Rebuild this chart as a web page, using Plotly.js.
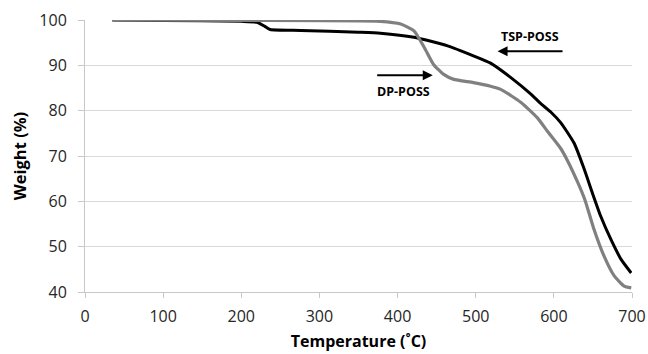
<!DOCTYPE html>
<html>
<head>
<meta charset="utf-8">
<script src="https://cdn.plot.ly/plotly-3.0.1.min.js"></script>
<style>
  html, body { margin: 0; padding: 0; background: #fff; }
  #chart { width: 648px; height: 354px; }
</style>
</head>
<body>
<div id="chart"></div>
<script>
// TGA curves: temperature (°C) vs residual weight (%)
const tspTemp = [35, 100, 200, 220, 230, 237, 276, 350, 378, 421, 464, 497, 519, 545, 571, 583, 596, 609, 626, 638, 649, 660, 673, 686, 699];
const tspWeight = [100, 99.9, 99.7, 99.5, 98.6, 97.9, 97.7, 97.3, 97.1, 96.2, 94.3, 92.1, 90.5, 87.3, 83.6, 81.6, 79.7, 77.3, 72.8, 67.5, 62.0, 56.7, 51.6, 47.2, 44.2];

const dpTemp = [35, 200, 378, 404, 421, 434, 446, 459, 472, 497, 519, 532, 558, 579, 592, 609, 618, 631, 640, 651, 664, 677, 690, 699];
const dpWeight = [100, 99.9, 99.7, 99.1, 97.6, 94.0, 90.2, 88.0, 86.9, 86.2, 85.4, 84.7, 81.8, 78.4, 75.4, 71.6, 68.8, 64.0, 60.2, 54.0, 48.0, 43.6, 41.3, 40.9];

const xTicks = [0, 100, 200, 300, 400, 500, 600, 700];
const yTicks = [40, 50, 60, 70, 80, 90, 100];

const font = '"Open Sans", "Liberation Sans", sans-serif';

const traces = [
  {
    x: tspTemp, y: tspWeight, name: 'TSP-POSS', type: 'scatter', mode: 'lines',
    line: { color: '#000000', width: 3, shape: 'spline', smoothing: 0.5 }
  },
  {
    x: dpTemp, y: dpWeight, name: 'DP-POSS', type: 'scatter', mode: 'lines',
    line: { color: '#808080', width: 3.2, shape: 'spline', smoothing: 0.5 }
  }
];

const layout = {
  width: 648, height: 354,
  margin: { l: 85, r: 16, t: 20, b: 62 },
  paper_bgcolor: '#ffffff', plot_bgcolor: '#ffffff',
  showlegend: false,
  font: { family: font, color: '#262626' },
  xaxis: {
    range: [0, 700], tickvals: xTicks, ticktext: xTicks.map(String),
    showgrid: false, zeroline: false,
    showline: true, linecolor: '#c8c8c8', linewidth: 1,
    ticks: 'outside', ticklen: 5, tickcolor: '#c8c8c8',
    tickfont: { size: 16, family: font, color: '#262626' },
    ticklabelstandoff: 5,
    title: { text: 'Temperature (˚C)', font: { size: 16, family: font, color: '#000', weight: 'bold' }, standoff: 9 }
  },
  yaxis: {
    range: [40, 100], tickvals: yTicks, ticktext: yTicks.map(String),
    showgrid: true, gridcolor: '#d9d9d9', gridwidth: 1, zeroline: false,
    showline: true, linecolor: '#c8c8c8', linewidth: 1,
    ticks: 'outside', ticklen: 6, tickcolor: '#c8c8c8',
    tickfont: { size: 16, family: font, color: '#262626' },
    ticklabelstandoff: 8,
    title: { text: 'Weight (%)', font: { size: 16.5, family: font, color: '#000', weight: 'bold' }, standoff: 8 }
  },
  annotations: [
    { x: 570, y: 96.4, text: 'TSP-POSS', showarrow: false, xref: 'x', yref: 'y',
      font: { size: 12.5, family: font, color: '#000', weight: 'bold' } },
    { x: 528, y: 93.1, ax: 613, ay: 93.1, axref: 'x', ayref: 'y', xref: 'x', yref: 'y',
      text: '', showarrow: true, arrowhead: 2, arrowsize: 1, arrowwidth: 2, arrowcolor: '#000' },
    { x: 408, y: 84.2, text: 'DP-POSS', showarrow: false, xref: 'x', yref: 'y',
      font: { size: 12.5, family: font, color: '#000', weight: 'bold' } },
    { x: 445, y: 87.8, ax: 372, ay: 87.8, axref: 'x', ayref: 'y', xref: 'x', yref: 'y',
      text: '', showarrow: true, arrowhead: 2, arrowsize: 1, arrowwidth: 2, arrowcolor: '#000' }
  ]
};

Plotly.newPlot('chart', traces, layout, { staticPlot: true, displayModeBar: false });
</script>
</body>
</html>
